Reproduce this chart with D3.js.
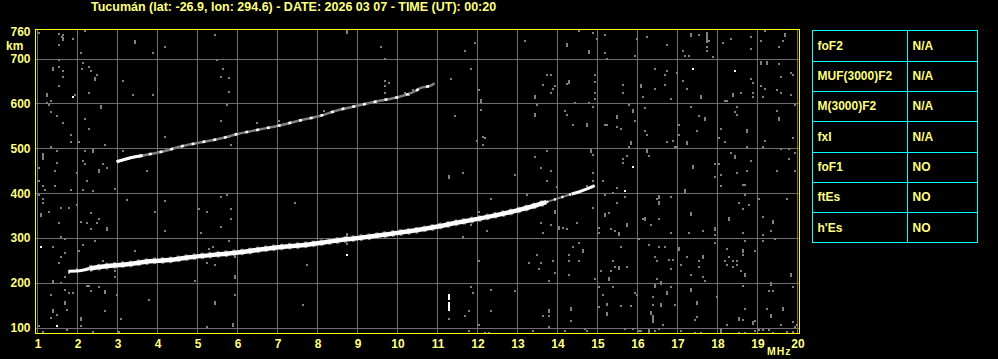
<!DOCTYPE html>
<html>
<head>
<meta charset="utf-8">
<script src="https://cdn.jsdelivr.net/npm/d3@7"></script>
<style>
  body { margin: 0; background: #000; }
  svg { display: block; }
  text { font-family: "Liberation Sans", Arial, sans-serif; font-weight: bold; fill: #ffff80; }
</style>
</head>
<body>
<div id="chart"></div>
<script>
const w = 998;
const h = 359;

// header info
const station = "Tucumán";
const lat = "-26.9";
const lon = "294.6";
const date = "2026 03 07";
const timeUT = "00:20";

// axes
const freqRange = [1, 20];
const heightRange = [87, 765];
const freqTicks = [1, 2, 3, 4, 5, 6, 7, 8, 9, 10, 11, 12, 13, 14, 15, 16, 17, 18, 19, 20];
const heightTicks = [100, 200, 300, 400, 500, 600, 700, 760];
const gridHeights = [100, 200, 300, 400, 500, 600, 700];

// scaled parameters table
const paramNames = ["foF2", "MUF(3000)F2", "M(3000)F2", "fxI", "foF1", "ftEs", "h'Es"];
const paramValues = ["N/A", "N/A", "N/A", "N/A", "NO", "NO", "NO"];

// traces [MHz, km]
const lowerTrace = [
  [1.77, 226], [2.05, 227], [2.3, 232], [2.8, 238], [3.3, 242], [3.8, 248], [4.3, 251],
  [4.8, 257], [5.47, 263], [5.72, 265], [6.22, 270], [6.72, 276], [7.22, 281], [7.72, 285],
  [8.22, 291], [8.72, 297], [9.22, 302], [9.72, 308], [10.38, 316], [10.97, 325],
  [11.47, 334], [11.97, 342], [12.47, 351], [12.97, 361], [13.47, 373], [13.72, 380],
  [14.0, 388], [14.35, 398], [14.47, 401], [14.72, 409], [14.93, 417]
];
const upperTrace = [
  [2.98, 470], [3.38, 480], [3.63, 484], [4.13, 493], [4.63, 505], [5.13, 514], [5.63, 523],
  [6.0, 532], [6.55, 542], [7.05, 551], [7.55, 562], [8.05, 572], [8.55, 586], [9.05, 596],
  [9.55, 606], [10.05, 615], [10.47, 629], [10.58, 635], [10.8, 639], [10.93, 645]
];
// frequency spans where the echoes are strong / weak
const lowerStrong = [2.2, 13.72];
const lowerWeak = [13.72, 14.35];
const upperStrong = [2.98, 3.63];
// vertical spike [MHz, km low, km high]
const spike = [[11.28, 137, 158], [11.28, 162, 176]];

// scattered echoes [MHz, km]
const noise = [
  [1.03,757],[1.53,755],[1.63,752],[1.6,748],[1.88,743],[2.18,761],[1.53,730],[4.18,725],[3.88,712],[2.08,712],[5.43,752],[1.53,697],
  [1.53,682],[1.63,673],[2.13,691],[2.28,682],[2.10,678],[2.33,673],[2.48,664],[1.63,660],[1.53,638],[3.13,651],[5.63,678],[5.58,660],
  [5.48,697],[1.93,620],[2.28,624],[3.38,620],[3.88,620],[1.33,606],[1.23,602],[1.28,597],[1.33,580],[1.48,571],[2.18,566],[1.63,557],
  [2.28,544],[5.58,562],[1.83,530],[1.83,513],[2.03,513],[2.68,508],[1.33,504],[1.48,495],[2.18,495],[4.18,526],[2.13,472],[2.18,464],
  [1.48,468],[2.63,464],[2.73,455],[3.73,450],[1.03,455],[1.43,450],[1.98,446],[3.13,495],[1.13,417],[1.18,406],[1.03,428],[2.23,428],
  [1.43,417],[1.83,407],[2.13,406],[2.38,404],[2.93,409],[1.03,395],[1.13,388],[1.13,379],[3.23,385],[4.18,382],[5.58,391],[5.73,397],
  [1.58,368],[1.78,368],[1.98,373],[1.28,359],[2.33,355],[3.93,358],[5.03,365],[5.23,359],[2.53,342],[2.08,336],[2.23,333],[2.48,333],
  [1.53,333],[2.33,319],[4.18,315],[5.58,324],[5.08,311],[1.58,302],[1.68,297],[2.43,293],[1.38,279],[2.13,284],[2.03,270],[3.43,270],
  [1.68,266],[1.58,257],[5.28,275],[5.38,279],[1.53,244],[2.63,248],[2.93,226],[2.93,212],[5.23,244],[5.43,239],[1.68,212],[1.78,221],
  [1.98,230],[1.58,199],[2.23,194],[2.28,194],[2.53,190],[2.33,181],[1.68,185],[1.78,177],[1.88,177],[2.98,172],[1.33,172],[1.73,139],
  [1.48,129],[2.68,138],[4.93,203],[3.78,162],[1.33,122],[1.03,104],[2.08,104],[2.38,90],[3.03,90],[3.08,120],[5.23,102],[1.73,95],[1.13,90],
  [9.58,725],[9.68,699],[5.78,657],[5.78,626],[9.68,651],[9.78,646],[9.68,638],[9.68,624],[5.73,597],[5.78,526],[5.83,508],[5.73,397],
  [7.43,377],[5.83,364],[5.83,342],[5.78,293],[5.93,257],[7.73,239],[5.93,172],[7.63,151],[8.73,286],[6.48,556],[7.03,562],[8.15,583],
  [8.78,589],[10.18,623],[10.28,620],[10.38,629],
  [14.53,761],[14.88,757],[15.18,752],[11.93,734],[11.68,716],[13.18,739],[14.98,743],[15.18,712],[15.23,699],[11.33,655],[11.83,678],
  [13.73,664],[13.83,664],[13.63,642],[13.93,638],[13.88,633],[13.83,624],[14.23,644],[14.93,664],[14.93,648],[14.93,624],[14.93,611],
  [14.78,602],[14.88,593],[12.03,629],[14.43,602],[13.48,597],[12.08,586],[11.43,571],[14.18,584],[14.23,575],[14.38,553],[15.18,553],
  [12.13,526],[12.18,522],[11.98,517],[12.13,508],[13.73,495],[14.88,486],[13.43,481],[13.58,455],[13.83,450],[12.93,441],[11.63,446],
  [14.88,446],[13.73,428],[14.88,428],[15.13,428],[13.98,413],[14.73,417],[15.18,395],[13.23,395],[12.33,386],[12.03,359],[11.83,328],
  [12.23,315],[11.63,302],[13.58,333],[13.83,328],[13.63,311],[14.13,322],[14.23,319],[14.48,333],[15.03,322],[15.03,311],[14.88,368],
  [12.03,248],[13.28,244],[13.48,261],[13.58,244],[13.88,248],[13.53,230],[13.93,221],[14.38,279],[14.53,288],[14.28,261],[14.28,248],
  [14.53,248],[14.28,217],[15.08,226],[14.93,208],[13.78,203],[15.03,190],[15.13,172],[15.23,151],[12.93,181],[12.33,185],[11.83,190],
  [11.88,177],[11.78,138],[11.68,126],[12.33,138],[13.63,126],[13.78,126],[14.33,114],[15.03,145],[15.23,132],[12.03,107],[11.78,93],
  [12.18,89],[12.28,89],[13.38,93],[13.78,101],[14.18,93],[14.73,93],[11.28,120],[14.68,98],
  [16.23,748],[16.73,730],[15.98,743],[15.93,707],[15.23,699],[17.53,752],[17.78,739],[17.73,725],[17.73,716],[17.88,703],[17.13,716],
  [17.18,707],[17.28,707],[18.13,734],[18.33,743],[18.83,748],[18.83,721],[19.18,761],[19.08,739],[19.63,739],[19.53,725],[16.43,678],
  [16.73,673],[16.68,664],[16.98,669],[16.43,633],[16.68,642],[16.13,615],[16.83,611],[15.63,642],[15.63,624],[17.13,651],[17.23,633],
  [18.58,624],[18.88,624],[18.88,615],[18.83,655],[18.88,646],[19.53,687],[19.83,669],[19.88,664],[19.08,638],[19.18,633],[19.48,629],
  [19.58,624],[19.83,620],[19.58,660],[19.13,615],[18.18,606],[18.23,606],[15.78,596],[15.93,562],[15.23,553],[15.48,548],[15.58,544],
  [15.78,504],[16.18,589],[16.18,539],[16.23,530],[16.73,513],[16.88,517],[16.93,504],[16.98,504],[17.03,553],[17.03,530],[17.48,539],
  [17.53,571],[17.33,593],[18.08,544],[18.03,522],[18.18,513],[18.48,593],[18.43,580],[18.48,575],[18.73,504],[19.18,517],[19.13,504],
  [19.48,584],[19.88,522],[19.93,597],[15.63,477],[15.63,468],[15.73,483],[16.28,483],[17.93,464],[18.03,464],[17.93,437],[18.08,441],
  [18.08,417],[18.33,490],[18.48,446],[18.73,450],[18.83,472],[18.63,419],[18.68,419],[19.58,499],[19.78,499],[19.78,477],[19.93,490],
  [19.48,450],[19.93,450],[15.48,411],[15.38,400],[15.68,391],[15.48,377],[15.28,355],[15.33,319],[15.43,315],[16.48,386],[16.83,391],
  [16.13,342],[16.33,328],[16.53,342],[16.83,311],[17.28,311],[17.63,315],[17.93,306],[17.93,288],[18.53,377],[18.63,364],[18.78,373],
  [18.68,395],[18.63,311],[19.03,386],[19.13,346],[19.33,315],[19.13,306],[19.13,293],[19.43,297],[19.73,386],[15.58,279],[16.03,297],
  [16.28,284],[16.53,279],[16.68,279],[16.43,257],[16.48,248],[16.78,252],[16.88,252],[16.83,230],[17.23,257],[17.53,248],[17.53,235],
  [17.33,217],[17.63,212],[17.68,203],[17.08,239],[18.23,275],[18.28,257],[18.18,248],[18.38,248],[18.23,239],[18.38,235],[18.48,248],
  [18.48,239],[18.58,226],[18.63,261],[18.68,293],[18.93,270],[15.38,248],[15.43,235],[15.73,235],[15.33,226],[16.48,208],[15.38,190],
  [15.93,177],[15.98,172],[16.83,190],[16.38,168],[16.38,150],[16.93,151],[17.98,168],[18.63,194],[19.28,181],[19.38,181],[19.88,190],
  [15.23,152],[15.23,129],[15.58,148],[15.83,148],[16.63,107],[17.48,124],[17.43,116],[18.23,107],[18.63,116],[18.68,142],[18.93,114],
  [19.23,142],[19.58,107],[19.88,113],[19.98,105],[15.68,96],[15.88,96],[16.03,92],[16.08,92],[16.43,92],[16.53,96],[17.08,92],
  [17.43,89],[17.58,89],[18.53,89],[18.68,89],[18.93,92],[19.03,95],[19.13,95],[19.28,95],[19.38,89],[19.73,90],[19.88,90],[19.93,101]
];
// taller echoes (two pixels high)
const noiseTall = [
  [3.43,737],[1.38,676],[2.43,654],[1.23,618],[2.58,592],[1.13,484],[1.13,478],[2.38,493],[2.53,449],[1.08,351],[2.73,321],[1.38,202],
  [2.68,180],[1.68,154],[1.38,137],[5.43,154],[2.08,119],[8.73,759],[5.93,214],[5.88,105],[8.73,306],[14.23,730],[14.78,715],[14.28,649],
  [12.08,605],[13.43,614],[13.43,574],[14.73,551],[14.83,495],[11.28,435],[14.03,322],[13.93,359],[15.18,351],[14.63,272],[13.78,137],
  [14.33,141],[17.33,752],[17.73,755],[17.73,747],[17.73,740],[19.68,752],[16.08,638],[17.58,615],[18.38,618],[19.08,691],[19.23,690],
  [15.88,583],[15.48,569],[15.83,511],[17.23,511],[17.68,565],[18.73,538],[19.53,565],[16.23,493],[17.38,458],[18.43,480],[15.73,330],
  [15.53,308],[16.53,391],[16.53,377],[17.18,404],[16.18,343],[17.33,353],[17.93,321],[18.28,343],[19.38,336],[17.03,275],[17.63,258],
  [18.68,217],[18.63,272],[15.53,232],[15.28,209],[16.58,200],[16.43,193],[16.73,178],[17.33,183],[16.58,150],[17.48,154],[19.33,197],
  [19.83,218],[16.33,132],[16.38,124],[16.38,114],[18.53,119],[18.88,110],[19.33,127],[19.63,141],[16.28,92],[18.08,92],[1.63,744]
];
// strong single echoes
const noiseBright = [
  [1.88,615],[1.08,279],[1.48,104],[17.38,678],[18.43,673],[15.88,459],[15.68,404],[8.73,261]
];

const svg = d3.select("#chart").append("svg").attr("width", w).attr("height", h);

const x = d3.scaleLinear().domain(freqRange).range([37.5, 797.5]);
const y = d3.scaleLinear().domain(heightRange).range([333.5, 29.5]);

const plotLeft = x(freqRange[0]) - 2;
const plotRight = x(freqRange[1]) + 1;
const plotTop = y(heightRange[1]);
const plotBottom = y(heightRange[0]);

// title
svg.append("text")
  .attr("x", 91)
  .attr("y", 11)
  .style("font-size", "12.5px")
  .text(`${station} (lat: ${lat}, lon: ${lon}) - DATE: ${date} - TIME (UT): ${timeUT}`);

// grid
const grid = svg.append("g").attr("stroke", "#6e6e6e").attr("stroke-width", 1)
  .attr("shape-rendering", "crispEdges");
grid.selectAll("line.v").data(freqTicks).enter().append("line")
  .attr("x1", d => x(d)).attr("x2", d => x(d))
  .attr("y1", plotTop).attr("y2", plotBottom);
grid.selectAll("line.h").data(gridHeights).enter().append("line")
  .attr("x1", plotLeft).attr("x2", plotRight)
  .attr("y1", d => Math.round(y(d)) + 0.5).attr("y2", d => Math.round(y(d)) + 0.5);

// scattered echoes
const dots = svg.append("g").attr("shape-rendering", "crispEdges");
dots.selectAll("rect.n").data(noise).enter().append("rect")
  .attr("x", d => Math.round(x(d[0])) - 1).attr("y", d => Math.round(y(d[1])) - 1)
  .attr("width", 2).attr("height", 2).attr("fill", "#808080");
dots.selectAll("rect.t").data(noiseTall).enter().append("rect")
  .attr("x", d => Math.round(x(d[0])) - 1).attr("y", d => Math.round(y(d[1])) - 2)
  .attr("width", 2).attr("height", 4).attr("fill", "#808080");
dots.selectAll("rect.b").data(noiseBright).enter().append("rect")
  .attr("x", d => Math.round(x(d[0])) - 1).attr("y", d => Math.round(y(d[1])) - 1)
  .attr("width", 2).attr("height", 2).attr("fill", "#ffffff");
dots.selectAll("rect.s").data(spike).enter().append("rect")
  .attr("x", d => Math.round(x(d[0])) - 1).attr("y", d => y(d[2]))
  .attr("width", 2).attr("height", d => y(d[1]) - y(d[2])).attr("fill", "#ffffff");

// traces
const line = d3.line()
  .x(d => x(d[0]))
  .y(d => y(d[1]))
  .curve(d3.curveMonotoneX);
const within = (data, span) => data.filter(d => d[0] >= span[0] && d[0] <= span[1]);
const beyond = (data, span) => data.filter(d => d[0] <= span[0] || d[0] >= span[1]);

// lower trace: thin everywhere, thick where strong, broken where weak
const lowerEdges = [
  lowerTrace.filter(d => d[0] <= lowerStrong[0] + 0.1),
  lowerTrace.filter(d => d[0] >= lowerWeak[1])
];
svg.append("path").attr("d", line(within(lowerTrace, lowerStrong)))
  .attr("fill", "none").attr("stroke", "#808080").attr("stroke-width", 6.5)
  .attr("stroke-dasharray", "3 5");
lowerEdges.forEach(seg => {
  svg.append("path").attr("d", line(seg))
    .attr("fill", "none").attr("stroke", "#ffffff").attr("stroke-width", 3);
});
svg.append("path").attr("d", line(within(lowerTrace, lowerWeak)))
  .attr("fill", "none").attr("stroke", "#808080").attr("stroke-width", 2);
svg.append("path").attr("d", line(within(lowerTrace, lowerWeak)))
  .attr("fill", "none").attr("stroke", "#ffffff").attr("stroke-width", 2.5)
  .attr("stroke-dasharray", "2 6");
svg.append("path").attr("d", line(within(lowerTrace, lowerStrong)))
  .attr("fill", "none").attr("stroke", "#ffffff").attr("stroke-width", 4.5);

// upper trace: mostly weak, strong at its start
svg.append("path").attr("d", line(upperTrace))
  .attr("fill", "none").attr("stroke", "#808080").attr("stroke-width", 2.5);
svg.append("path").attr("d", line(upperTrace))
  .attr("fill", "none").attr("stroke", "#ffffff").attr("stroke-width", 2.5)
  .attr("stroke-dasharray", "3 8");
svg.append("path").attr("d", line(within(upperTrace, upperStrong)))
  .attr("fill", "none").attr("stroke", "#ffffff").attr("stroke-width", 3);

// frame
svg.append("rect")
  .attr("x", plotLeft - 0.5).attr("y", plotTop)
  .attr("width", plotRight - plotLeft + 1).attr("height", plotBottom - plotTop)
  .attr("fill", "none").attr("stroke", "#ffff00").attr("stroke-width", 1)
  .attr("shape-rendering", "crispEdges");

// axes
const xAxis = d3.axisBottom(x).tickValues(freqTicks).tickSize(0).tickPadding(6).tickFormat(d3.format("d"));
const gx = svg.append("g").attr("transform", `translate(0,${plotBottom})`).call(xAxis);
gx.select(".domain").remove();
gx.attr("font-family", null).attr("font-size", null);
gx.selectAll("text").style("font-size", "12px").attr("fill", null);

const yAxis = d3.axisLeft(y).tickValues(heightTicks).tickSize(0).tickPadding(4.5).tickFormat(d3.format("d"));
const gy = svg.append("g").attr("transform", `translate(${plotLeft - 0.5},0)`).call(yAxis);
gy.select(".domain").remove();
gy.attr("font-family", null).attr("font-size", null);
gy.selectAll("text").style("font-size", "12px").attr("fill", null);

svg.append("text").attr("x", 6).attr("y", 49.5).style("font-size", "12px").text("km");
svg.append("text").attr("x", 767).attr("y", 355).style("font-size", "10.5px")
  .style("letter-spacing", "1px").text("MHz");

// parameter table
const tx0 = 812.5, tx1 = 977.5, tcol = 907.5;
const row = d3.scaleBand().domain(paramNames).range([30.5, 242.5]);
const table = svg.append("g");
table.append("rect")
  .attr("x", tx0).attr("y", row.range()[0]).attr("width", tx1 - tx0)
  .attr("height", row.range()[1] - row.range()[0])
  .attr("fill", "none").attr("stroke", "#00ffff").attr("shape-rendering", "crispEdges");
table.append("line")
  .attr("x1", tcol).attr("x2", tcol).attr("y1", row.range()[0]).attr("y2", row.range()[1])
  .attr("stroke", "#00ffff").attr("shape-rendering", "crispEdges");
table.selectAll("line.r").data(paramNames.slice(1)).enter().append("line")
  .attr("x1", tx0).attr("x2", tx1)
  .attr("y1", d => Math.round(row(d)) + 0.5).attr("y2", d => Math.round(row(d)) + 0.5)
  .attr("stroke", "#00ffff").attr("shape-rendering", "crispEdges");
table.selectAll("text.name").data(paramNames).enter().append("text")
  .attr("x", tx0 + 5).attr("y", d => row(d) + row.bandwidth() / 2)
  .attr("dy", "0.35em").style("font-size", "12px").text(d => d);
table.selectAll("text.val").data(paramValues).enter().append("text")
  .attr("x", tcol + 5).attr("y", (d, i) => row(paramNames[i]) + row.bandwidth() / 2)
  .attr("dy", "0.35em").style("font-size", "12px").text(d => d);
</script>
</body>
</html>
